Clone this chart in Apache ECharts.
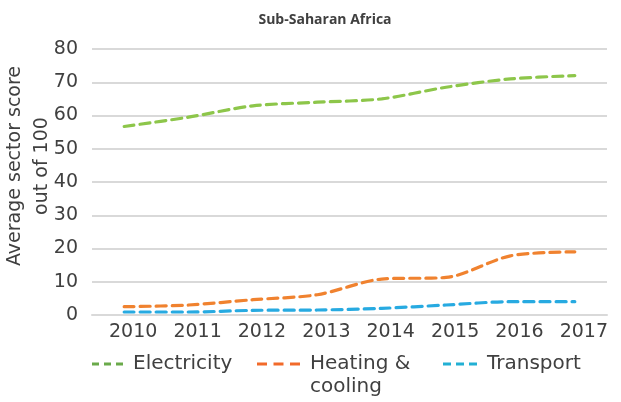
<!DOCTYPE html>
<html><head><meta charset="utf-8">
<script src="https://cdn.jsdelivr.net/npm/echarts@6/dist/echarts.min.js"></script>
<style>html,body{margin:0;padding:0;background:#fff}#c{width:621px;height:402px}</style>
</head><body><div id="c"></div>
<script>
const years = ['2010','2011','2012','2013','2014','2015','2016','2017'];
const electricity = [56.7, 59.5, 62.9, 64, 65, 68.5, 71, 72];
const heating = [2.5, 3, 4.6, 6.1, 10.8, 11.3, 17.8, 19];
const transport = [0.9, 0.9, 1.4, 1.5, 2.0, 3.0, 4.0, 4.0];
const yTicks = [0, 10, 20, 30, 40, 50, 60, 70, 80];
const seriesNames = ['Electricity', 'Heating & cooling', 'Transport'];
const colors = ['#8dc64a', '#f0822f', '#27aae1'];
const legendColors = ['#6aaa4a', '#f26a2a', '#22b0d4'];
const FONT = 'DejaVu Sans';

const chart = echarts.init(document.getElementById('c'));
const mk = (name, data, color, i) => ({
  name, type: 'line', data, smooth: 0.3, symbol: 'none',
  lineStyle: { color, width: 3.2, type: [10, 6], cap: 'round' },
  itemStyle: { color: legendColors[i] }
});
function dashIcon(dash, gap) {
  let p = 'path://';
  for (let k = 0; k < 3; k++) {
    const x0 = k * (dash + gap), x1 = x0 + dash;
    p += `M${x0},0 L${x1},0 L${x1},3 L${x0},3 Z `;
  }
  return p;
}
const mkLegend = (name, left, w, dash, gap) => ({
  left, top: 354, itemWidth: w, itemHeight: 3, padding: 0,
  icon: dashIcon(dash, gap), data: [name],
  formatter: n => n === 'Heating & cooling' ? 'Heating &' : n,
  textStyle: { fontSize: 20, color: '#404040', fontFamily: FONT, padding: [0, 0, 0, 5] }
});
chart.setOption({
  animation: false,
  textStyle: { fontFamily: FONT },
  title: { text: 'Sub-Saharan Africa', left: 320, textAlign: 'center', top: 8,
    textStyle: { fontSize: 14, fontWeight: 'bold', color: '#404040', fontFamily: 'Open Sans' } },
  grid: { left: 92, right: 14, top: 49, bottom: 87, outerBoundsMode: 'none', containLabel: false },
  xAxis: { type: 'category', data: years, boundaryGap: true,
    axisLine: { lineStyle: { color: '#d9d9d9', width: 2 } }, axisTick: { show: false },
    axisLabel: { color: '#404040', fontSize: 19, margin: 8, padding: [0, 0, 0, 18] } },
  yAxis: { type: 'value', min: yTicks[0], max: yTicks[yTicks.length - 1], interval: 10,
    name: 'Average sector score\nout of 100', nameLocation: 'middle', nameGap: 36,
    nameMoveOverlap: false,
    nameTextStyle: { fontSize: 19, color: '#404040', lineHeight: 27, padding: [0, 0, 0, 32] },
    axisLabel: { color: '#404040', fontSize: 19, margin: 14 },
    axisLine: { show: false }, axisTick: { show: false },
    splitLine: { lineStyle: { color: '#d9d9d9', width: 2 } } },
  legend: [mkLegend(seriesNames[0], 92, 31, 7, 5), mkLegend(seriesNames[1], 257, 43, 10, 6.5), mkLegend(seriesNames[2], 443, 34, 8, 5)],
  graphic: [{ type: 'text', left: 310, top: 377,
    style: { text: 'cooling', fontSize: 20, fill: '#404040', fontFamily: FONT } }],
  series: [mk(seriesNames[0], electricity, colors[0], 0), mk(seriesNames[1], heating, colors[1], 1), mk(seriesNames[2], transport, colors[2], 2)]
});
</script></body></html>
